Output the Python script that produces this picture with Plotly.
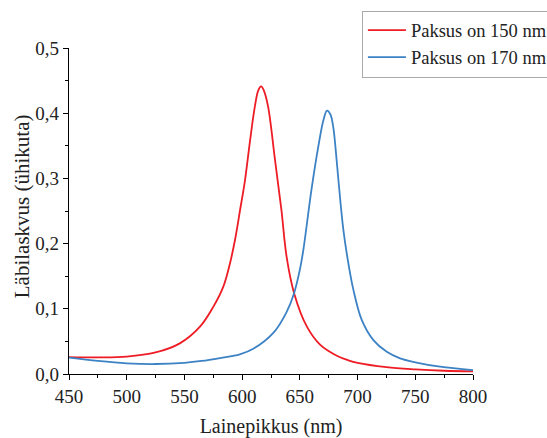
import plotly.graph_objects as go

# Wavelength (nm) and transmittance readings
red_x = [450, 475, 500, 525, 546, 563.5, 575, 583.7, 589.5, 593.8, 598.2, 602.5, 607, 611, 614, 616.5, 619, 622.5, 628.5, 634, 638.5, 645, 656, 667.5, 682, 692, 700, 725, 750, 775, 800]
red_y = [0.026, 0.0255, 0.0266, 0.033, 0.047, 0.0726, 0.103, 0.134, 0.170, 0.2055, 0.2515, 0.2975, 0.360, 0.410, 0.435, 0.441, 0.434, 0.410, 0.328, 0.252, 0.180, 0.124, 0.073, 0.045, 0.028, 0.021, 0.017, 0.0105, 0.0072, 0.005, 0.004]

blue_x = [450, 475, 500, 525, 550, 565, 581, 598, 610, 627, 638.5, 645, 650, 653, 660, 666, 670.5, 673.5, 676.5, 679, 681, 683.4, 687.7, 692, 696.4, 703.6, 713.7, 725.3, 736.8, 750, 771.5, 800]
blue_y = [0.025, 0.020, 0.0164, 0.0153, 0.0172, 0.020, 0.0245, 0.030, 0.039, 0.063, 0.095, 0.124, 0.160, 0.19, 0.282, 0.349, 0.390, 0.404, 0.398, 0.378, 0.345, 0.2975, 0.221, 0.170, 0.129, 0.083, 0.052, 0.034, 0.024, 0.018, 0.0112, 0.006]

x_ticks = [450, 500, 550, 600, 650, 700, 750, 800]
y_ticks = [0.0, 0.1, 0.2, 0.3, 0.4, 0.5]
y_tick_text = ["0,0", "0,1", "0,2", "0,3", "0,4", "0,5"]

font_family = "Liberation Serif"
fig = go.Figure()
fig.add_trace(go.Scatter(x=red_x, y=red_y, mode="lines", name="Paksus on 150 nm",
                         line=dict(color="#ee1c25", width=1.8, shape="spline", smoothing=1.0)))
fig.add_trace(go.Scatter(x=blue_x, y=blue_y, mode="lines", name="Paksus on 170 nm",
                         line=dict(color="#3c82c4", width=1.8, shape="spline", smoothing=1.0)))

fig.update_layout(
    width=547, height=438,
    margin=dict(l=69, r=74, t=48, b=64, autoexpand=False),
    paper_bgcolor="white", plot_bgcolor="white",
    font=dict(family=font_family, color="#222222", size=19),
    showlegend=True,
    legend=dict(x=0.725, y=1.115, xanchor="left", yanchor="top",
                bordercolor="#aaaaaa", borderwidth=1, bgcolor="white",
                font=dict(family=font_family, size=18.5, color="#222222"),
                tracegroupgap=0, itemwidth=38),
    annotations=[dict(text="Läbilaskvus (ühikuta)", textangle=-90,
                      xref="paper", yref="paper", x=-0.116, y=0.515,
                      xanchor="center", yanchor="middle", showarrow=False,
                      font=dict(family=font_family, size=21, color="#222222"))],
)

fig.update_xaxes(
    range=[450, 800], tickmode="array", tickvals=x_ticks, automargin=False,
    ticks="outside", ticklen=5, tickwidth=1.2, tickcolor="black",
    showline=True, linecolor="black", linewidth=1.3,
    showgrid=False, zeroline=False,
    minor=dict(tickmode="linear", tick0=475, dtick=50, ticks="outside", ticklen=3, tickwidth=1.2, tickcolor="black", showgrid=False),
    title=dict(text="Lainepikkus (nm)", font=dict(family=font_family, size=20), standoff=14),
    tickfont=dict(family=font_family, size=19),
)
fig.update_yaxes(
    range=[0, 0.5], tickmode="array", tickvals=y_ticks, ticktext=y_tick_text, automargin=False,
    ticks="outside", ticklen=5, tickwidth=1.2, tickcolor="black",
    showline=True, linecolor="black", linewidth=1.3,
    showgrid=False, zeroline=False,
    minor=dict(tickmode="linear", tick0=0.05, dtick=0.1, ticks="outside", ticklen=3, tickwidth=1.2, tickcolor="black", showgrid=False),
    tickfont=dict(family=font_family, size=19),
)

fig.write_html("out.html")
